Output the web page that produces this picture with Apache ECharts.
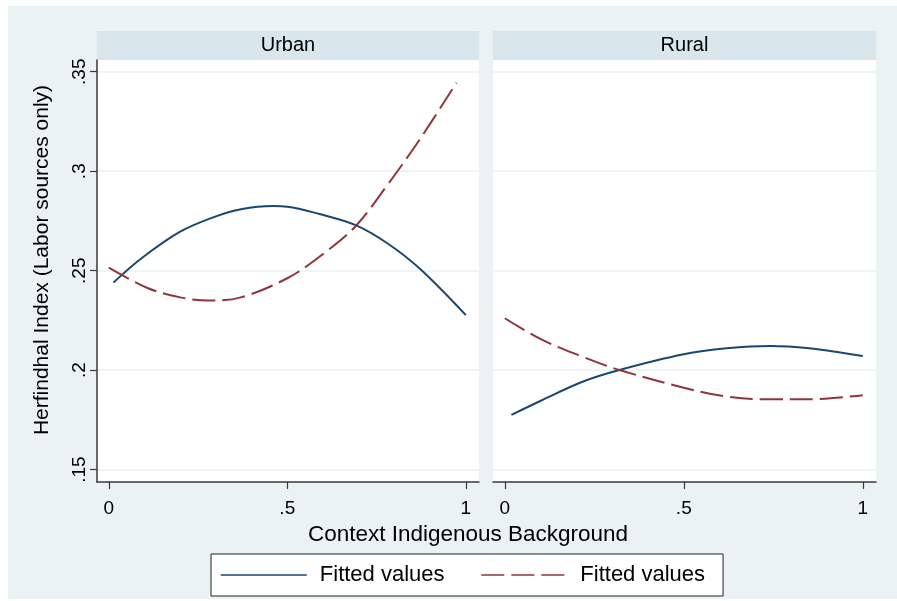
<!DOCTYPE html>
<html>
<head>
<meta charset="utf-8">
<script src="https://cdn.jsdelivr.net/npm/echarts@6/dist/echarts.min.js"></script>
<style>
  html, body { margin: 0; padding: 0; background: #ffffff; }
  #chart { width: 897px; height: 601px; }
</style>
</head>
<body>
<div id="chart"></div>
<script>
// Panel headings
const panelTitles = ['Urban', 'Rural'];

// Axis ticks and their printed labels
const xTicks = [0, 0.5, 1];
const xTickLabels = ['0', '.5', '1'];
const yTicks = [0.15, 0.2, 0.25, 0.3, 0.35];
const yTickLabels = ['.15', '.2', '.25', '.3', '.35'];

// Urban panel: fitted curves (context share -> Herfindahl index)
const urbanX1 = [0.013, 0.09, 0.2, 0.3, 0.37, 0.46, 0.5, 0.59, 0.69, 0.78, 0.87, 1.0];
const urbanFit1 = [0.244, 0.256, 0.2696, 0.2773, 0.2809, 0.2825, 0.2822, 0.2785, 0.273, 0.2638, 0.2512, 0.2277];
const urbanX2 = [0.0, 0.11, 0.2, 0.28, 0.37, 0.5, 0.59, 0.69, 0.78, 0.87, 0.974];
const urbanFit2 = [0.2515, 0.2412, 0.2366, 0.235, 0.2366, 0.2462, 0.257, 0.2721, 0.293, 0.3157, 0.3445];

// Rural panel
const ruralX1 = [0.0185, 0.105, 0.217, 0.32, 0.5, 0.62, 0.74, 0.85, 1.0];
const ruralFit1 = [0.1775, 0.185, 0.1942, 0.2001, 0.208, 0.211, 0.2122, 0.211, 0.2071];
const ruralX2 = [0.0, 0.105, 0.217, 0.32, 0.5, 0.61, 0.73, 0.85, 1.0];
const ruralFit2 = [0.2261, 0.2152, 0.2068, 0.2001, 0.1912, 0.187, 0.1854, 0.1854, 0.1874];

const legendLabel = 'Fitted values';

const BLUE = '#1a476f';
const RED = '#90353b';
const FONT = '"Liberation Sans", Arial, sans-serif';
const AXIS_COLOR = '#3a3a3a';
const GRID_COLOR = '#eaf2f3';

function zip(xs, ys) { return xs.map((x, i) => [x, ys[i]]); }

const panelBoxes = [
  { left: 97, width: 382 },
  { left: 493, width: 383 }
];
const plotTop = 60, plotHeight = 422;

function xAxisFor(i) {
  return {
    type: 'value', gridIndex: i, min: -0.033, max: 1.037,
    axisLine: { show: true, onZero: false, lineStyle: { color: AXIS_COLOR, width: 1.5 } },
    axisTick: { show: true, length: 7, customValues: xTicks, lineStyle: { color: AXIS_COLOR, width: 1.2 } },
    axisLabel: {
      customValues: xTicks, margin: 17, fontSize: 19, color: '#000', fontFamily: FONT,
      formatter: v => xTickLabels[xTicks.indexOf(+v.toFixed(3))] ?? ''
    },
    splitLine: { show: false }
  };
}

function yAxisFor(i) {
  const first = i === 0;
  return {
    type: 'value', gridIndex: i, min: 0.1438, max: 0.3559,
    axisLine: { show: first, onZero: false, lineStyle: { color: AXIS_COLOR, width: 1.5 } },
    axisTick: { show: first, length: 7, customValues: yTicks, lineStyle: { color: AXIS_COLOR, width: 1.2 } },
    axisLabel: {
      show: first, customValues: yTicks, rotate: 90, margin: 8, fontSize: 19, color: '#000', fontFamily: FONT,
      formatter: v => yTickLabels[yTicks.indexOf(+v.toFixed(3))] ?? ''
    },
    splitLine: { show: true, lineStyle: { color: GRID_COLOR, width: 1.5 } }
  };
}

function lineSeries(name, i, xs, ys, color, dashed) {
  return {
    name, type: 'line', xAxisIndex: i, yAxisIndex: i,
    data: zip(xs, ys), smooth: 0.35, symbol: 'none', showSymbol: false,
    lineStyle: { color, width: 2, type: dashed ? [23, 7] : 'solid' },
    itemStyle: { color },
    emphasis: { disabled: true }, silent: true, z: 3
  };
}

const graphics = [
  { type: 'rect', z: -100, shape: { x: 8, y: 6, width: 889, height: 593 }, style: { fill: '#eaf2f3' } },
  { type: 'text', x: 468, y: 535, style: { text: 'Context Indigenous Background', fontSize: 22.5, fontFamily: FONT, fill: '#000', align: 'center', verticalAlign: 'middle' } },
  { type: 'text', x: 42, y: 260, rotation: Math.PI / 2, style: { text: 'Herfindhal Index (Labor sources only)', fontSize: 21, fontFamily: FONT, fill: '#000', align: 'center', verticalAlign: 'middle' } }
];
panelBoxes.forEach((b, i) => {
  graphics.push({ type: 'rect', shape: { x: b.left, y: 31, width: b.width, height: 29 }, style: { fill: '#d9e6eb' } });
  graphics.push({ type: 'text', x: b.left + b.width / 2, y: 45.5, style: { text: panelTitles[i], fontSize: 20, fontFamily: FONT, fill: '#000', align: 'center', verticalAlign: 'middle' } });
});

const chart = echarts.init(document.getElementById('chart'), null, { renderer: 'canvas' });
chart.setOption({
  animation: false,
  backgroundColor: '#ffffff',
  textStyle: { fontFamily: FONT },
  grid: panelBoxes.map(b => ({
    left: b.left, width: b.width, top: plotTop, height: plotHeight,
    show: true, backgroundColor: '#ffffff', borderWidth: 0, containLabel: false
  })),
  xAxis: [xAxisFor(0), xAxisFor(1)],
  yAxis: [yAxisFor(0), yAxisFor(1)],
  legend: {
    left: 211, top: 554, orient: 'horizontal',
    data: ['fitSolid', 'fitDashed'],
    itemWidth: 86, itemHeight: 14, itemGap: 36,
    formatter: () => legendLabel,
    itemStyle: { opacity: 0 },
    lineStyle: { width: 1.6 },
    textStyle: { fontSize: 22, fontFamily: FONT, color: '#000', padding: [0, 0, 0, 8] },
    backgroundColor: '#ffffff', borderColor: '#222', borderWidth: 1,
    padding: [10, 18, 10, 9],
    selectedMode: false
  },
  graphic: graphics,
  series: [
    lineSeries('fitSolid', 0, urbanX1, urbanFit1, BLUE, false),
    lineSeries('fitDashed', 0, urbanX2, urbanFit2, RED, true),
    lineSeries('fitSolid', 1, ruralX1, ruralFit1, BLUE, false),
    lineSeries('fitDashed', 1, ruralX2, ruralFit2, RED, true)
  ]
});
</script>
</body>
</html>
